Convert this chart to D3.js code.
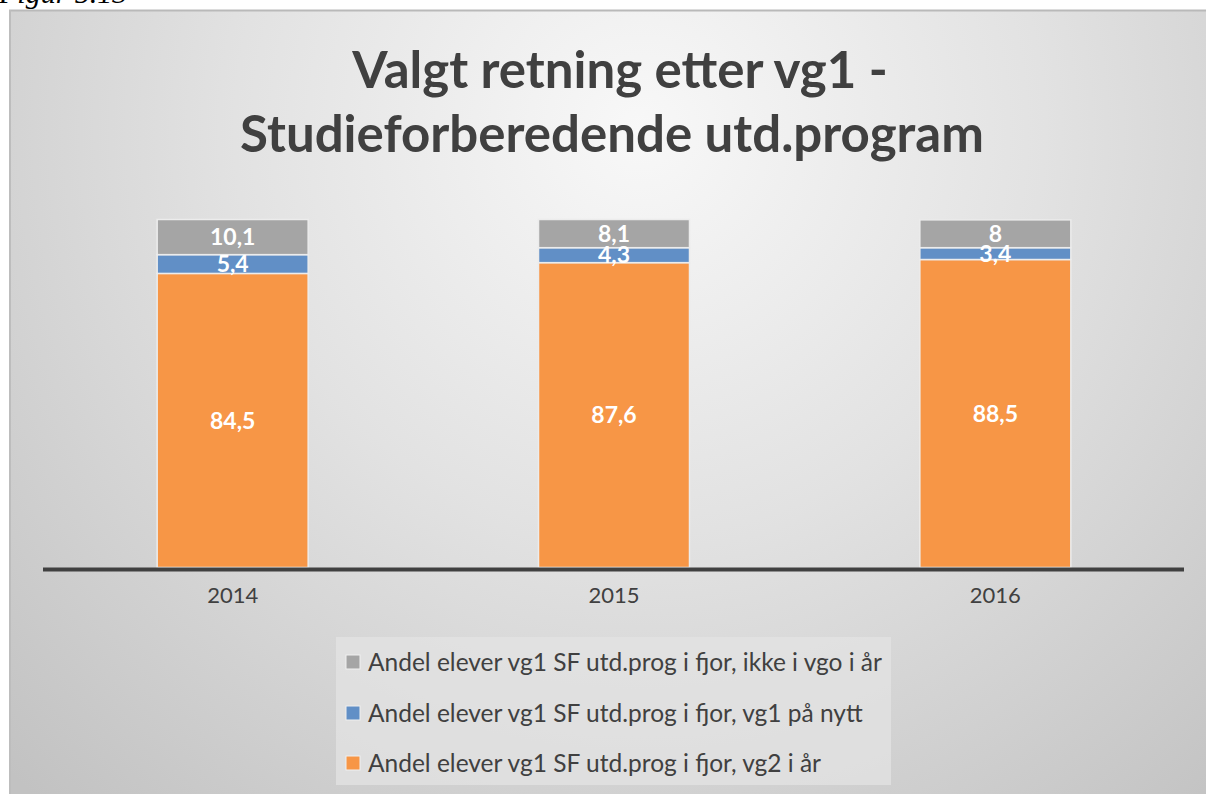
<!DOCTYPE html>
<html>
<head>
<meta charset="utf-8">
<script src="https://cdn.jsdelivr.net/npm/d3@7"></script>
<style>
  html, body { margin: 0; padding: 0; background: #ffffff; }
  svg { display: block; }
</style>
</head>
<body>
<svg id="chart" width="1206" height="794"></svg>
<script>
// Years on the x axis
const years = ["2014", "2015", "2016"];

// Shares (%) per year, one array per series
const vg2IAar   = [84.5, 87.6, 88.5];  // vg2 i år
const vg1PaaNytt = [5.4, 4.3, 3.4];    // vg1 på nytt
const ikkeIVgo  = [10.1, 8.1, 8];      // ikke i vgo i år

// Series names (bottom to top in the stack)
const seriesKeys = ["vg2", "nytt", "ikke"];
const seriesNames = {
  vg2:  "Andel elever vg1 SF utd.prog i fjor, vg2 i år",
  nytt: "Andel elever vg1 SF utd.prog i fjor, vg1 på nytt",
  ikke: "Andel elever vg1 SF utd.prog i fjor, ikke i vgo i år"
};
const seriesColors = { vg2: "#f79646", nytt: "#618fc6", ikke: "#a5a5a5" };

const titleLines = ["Valgt retning etter vg1 -", "Studieforberedende utd.program"];

const rows = years.map((y, i) => ({ year: y, vg2: vg2IAar[i], nytt: vg1PaaNytt[i], ikke: ikkeIVgo[i] }));

const svg = d3.select("#chart");
const W = 1206, H = 794;

// Caption above the chart frame
svg.append("text")
  .attr("x", -1).attr("y", 3)
  .attr("font-family", "Liberation Serif, serif")
  .attr("font-style", "italic")
  .attr("font-size", 30)
  .attr("fill", "#000")
  .text("Figur 5.13");

// Chart frame with soft radial shading
const defs = svg.append("defs");
const grad = defs.append("radialGradient")
  .attr("id", "bg")
  .attr("gradientUnits", "userSpaceOnUse")
  .attr("cx", 640).attr("cy", 130).attr("r", 900);
grad.append("stop").attr("offset", "0").attr("stop-color", "#f8f8f8");
grad.append("stop").attr("offset", "0.45").attr("stop-color", "#e2e2e2");
grad.append("stop").attr("offset", "1").attr("stop-color", "#c2c2c2");

const frameX = 9, frameY = 10;
svg.append("rect")
  .attr("x", frameX).attr("y", frameY)
  .attr("width", W - frameX).attr("height", H - frameY)
  .attr("fill", "url(#bg)");
// frame edges
svg.append("line")
  .attr("x1", frameX).attr("x2", W).attr("y1", frameY + 0.5).attr("y2", frameY + 0.5)
  .attr("stroke", "#b9b9b9").attr("stroke-width", 2);
svg.append("line")
  .attr("x1", frameX + 1).attr("x2", frameX + 1).attr("y1", frameY).attr("y2", H)
  .attr("stroke", "#bdbdbd").attr("stroke-width", 2);

// Title
const title = svg.append("text")
  .attr("text-anchor", "middle")
  .attr("font-family", "Lato, sans-serif")
  .attr("font-weight", "bold")
  .attr("font-size", 51)
  .attr("fill", "#404040");
title.append("tspan").attr("x", 620).attr("y", 88).text(titleLines[0]);
title.append("tspan").attr("x", 612).attr("y", 152).text(titleLines[1]);

// Scales
const x = d3.scaleBand()
  .domain(years)
  .range([42, 1186])
  .paddingInner(0.604)
  .paddingOuter(0.302);

const y = d3.scaleLinear()
  .domain([0, 100])
  .range([567.5, 219.5]);

const stacked = d3.stack().keys(seriesKeys)(rows);

// Bars
const layers = svg.append("g").selectAll("g")
  .data(stacked)
  .join("g")
  .attr("fill", d => seriesColors[d.key]);

layers.selectAll("rect")
  .data(d => d)
  .join("rect")
  .attr("x", d => x(d.data.year))
  .attr("width", x.bandwidth())
  .attr("y", d => y(d[1]))
  .attr("height", d => y(d[0]) - y(d[1]))
  .attr("stroke", "#ececec")
  .attr("stroke-width", 1.5);

// Value labels, centred in each segment
const labels = svg.append("g")
  .attr("font-family", "Lato, sans-serif")
  .attr("font-weight", "bold")
  .attr("font-size", 23)
  .attr("fill", "#ffffff")
  .attr("text-anchor", "middle");

stacked.forEach(layer => {
  labels.selectAll(null)
    .data(layer)
    .join("text")
    .attr("x", d => x(d.data.year) + x.bandwidth() / 2)
    .attr("y", d => (y(d[0]) + y(d[1])) / 2)
    .attr("dy", "0.36em")
    .text(d => d3.format(".1~f")(d[1] - d[0]).replace(".", ","));
});

// X axis
const xAxis = svg.append("g")
  .attr("transform", `translate(0,${y(0) + 2})`)
  .call(d3.axisBottom(x).tickSize(0).tickPadding(18));
xAxis.select(".domain")
  .attr("stroke", "#404040")
  .attr("stroke-width", 4)
  .attr("d", "M43,0H1184");
xAxis.selectAll(".tick text")
  .attr("font-family", "Lato, sans-serif")
  .attr("font-size", 22)
  .attr("fill", "#404040");

// Legend
const legend = svg.append("g");
legend.append("rect")
  .attr("x", 336).attr("y", 637)
  .attr("width", 555).attr("height", 148)
  .attr("fill", "#e3e3e3")
  .attr("fill-opacity", 0.75);

const legendKeys = ["ikke", "nytt", "vg2"];
const legendRows = [662, 713, 763];
legendKeys.forEach((k, i) => {
  const cy = legendRows[i];
  legend.append("rect")
    .attr("x", 346).attr("y", cy - 7)
    .attr("width", 14).attr("height", 14)
    .attr("fill", seriesColors[k])
    .attr("stroke", "#f0f0f0")
    .attr("stroke-width", 1);
  legend.append("text")
    .attr("x", 368).attr("y", cy)
    .attr("dy", "0.36em")
    .attr("font-family", "Lato, sans-serif")
    .attr("font-size", 24.5)
    .attr("fill", "#404040")
    .text(seriesNames[k]);
});
</script>
</body>
</html>
